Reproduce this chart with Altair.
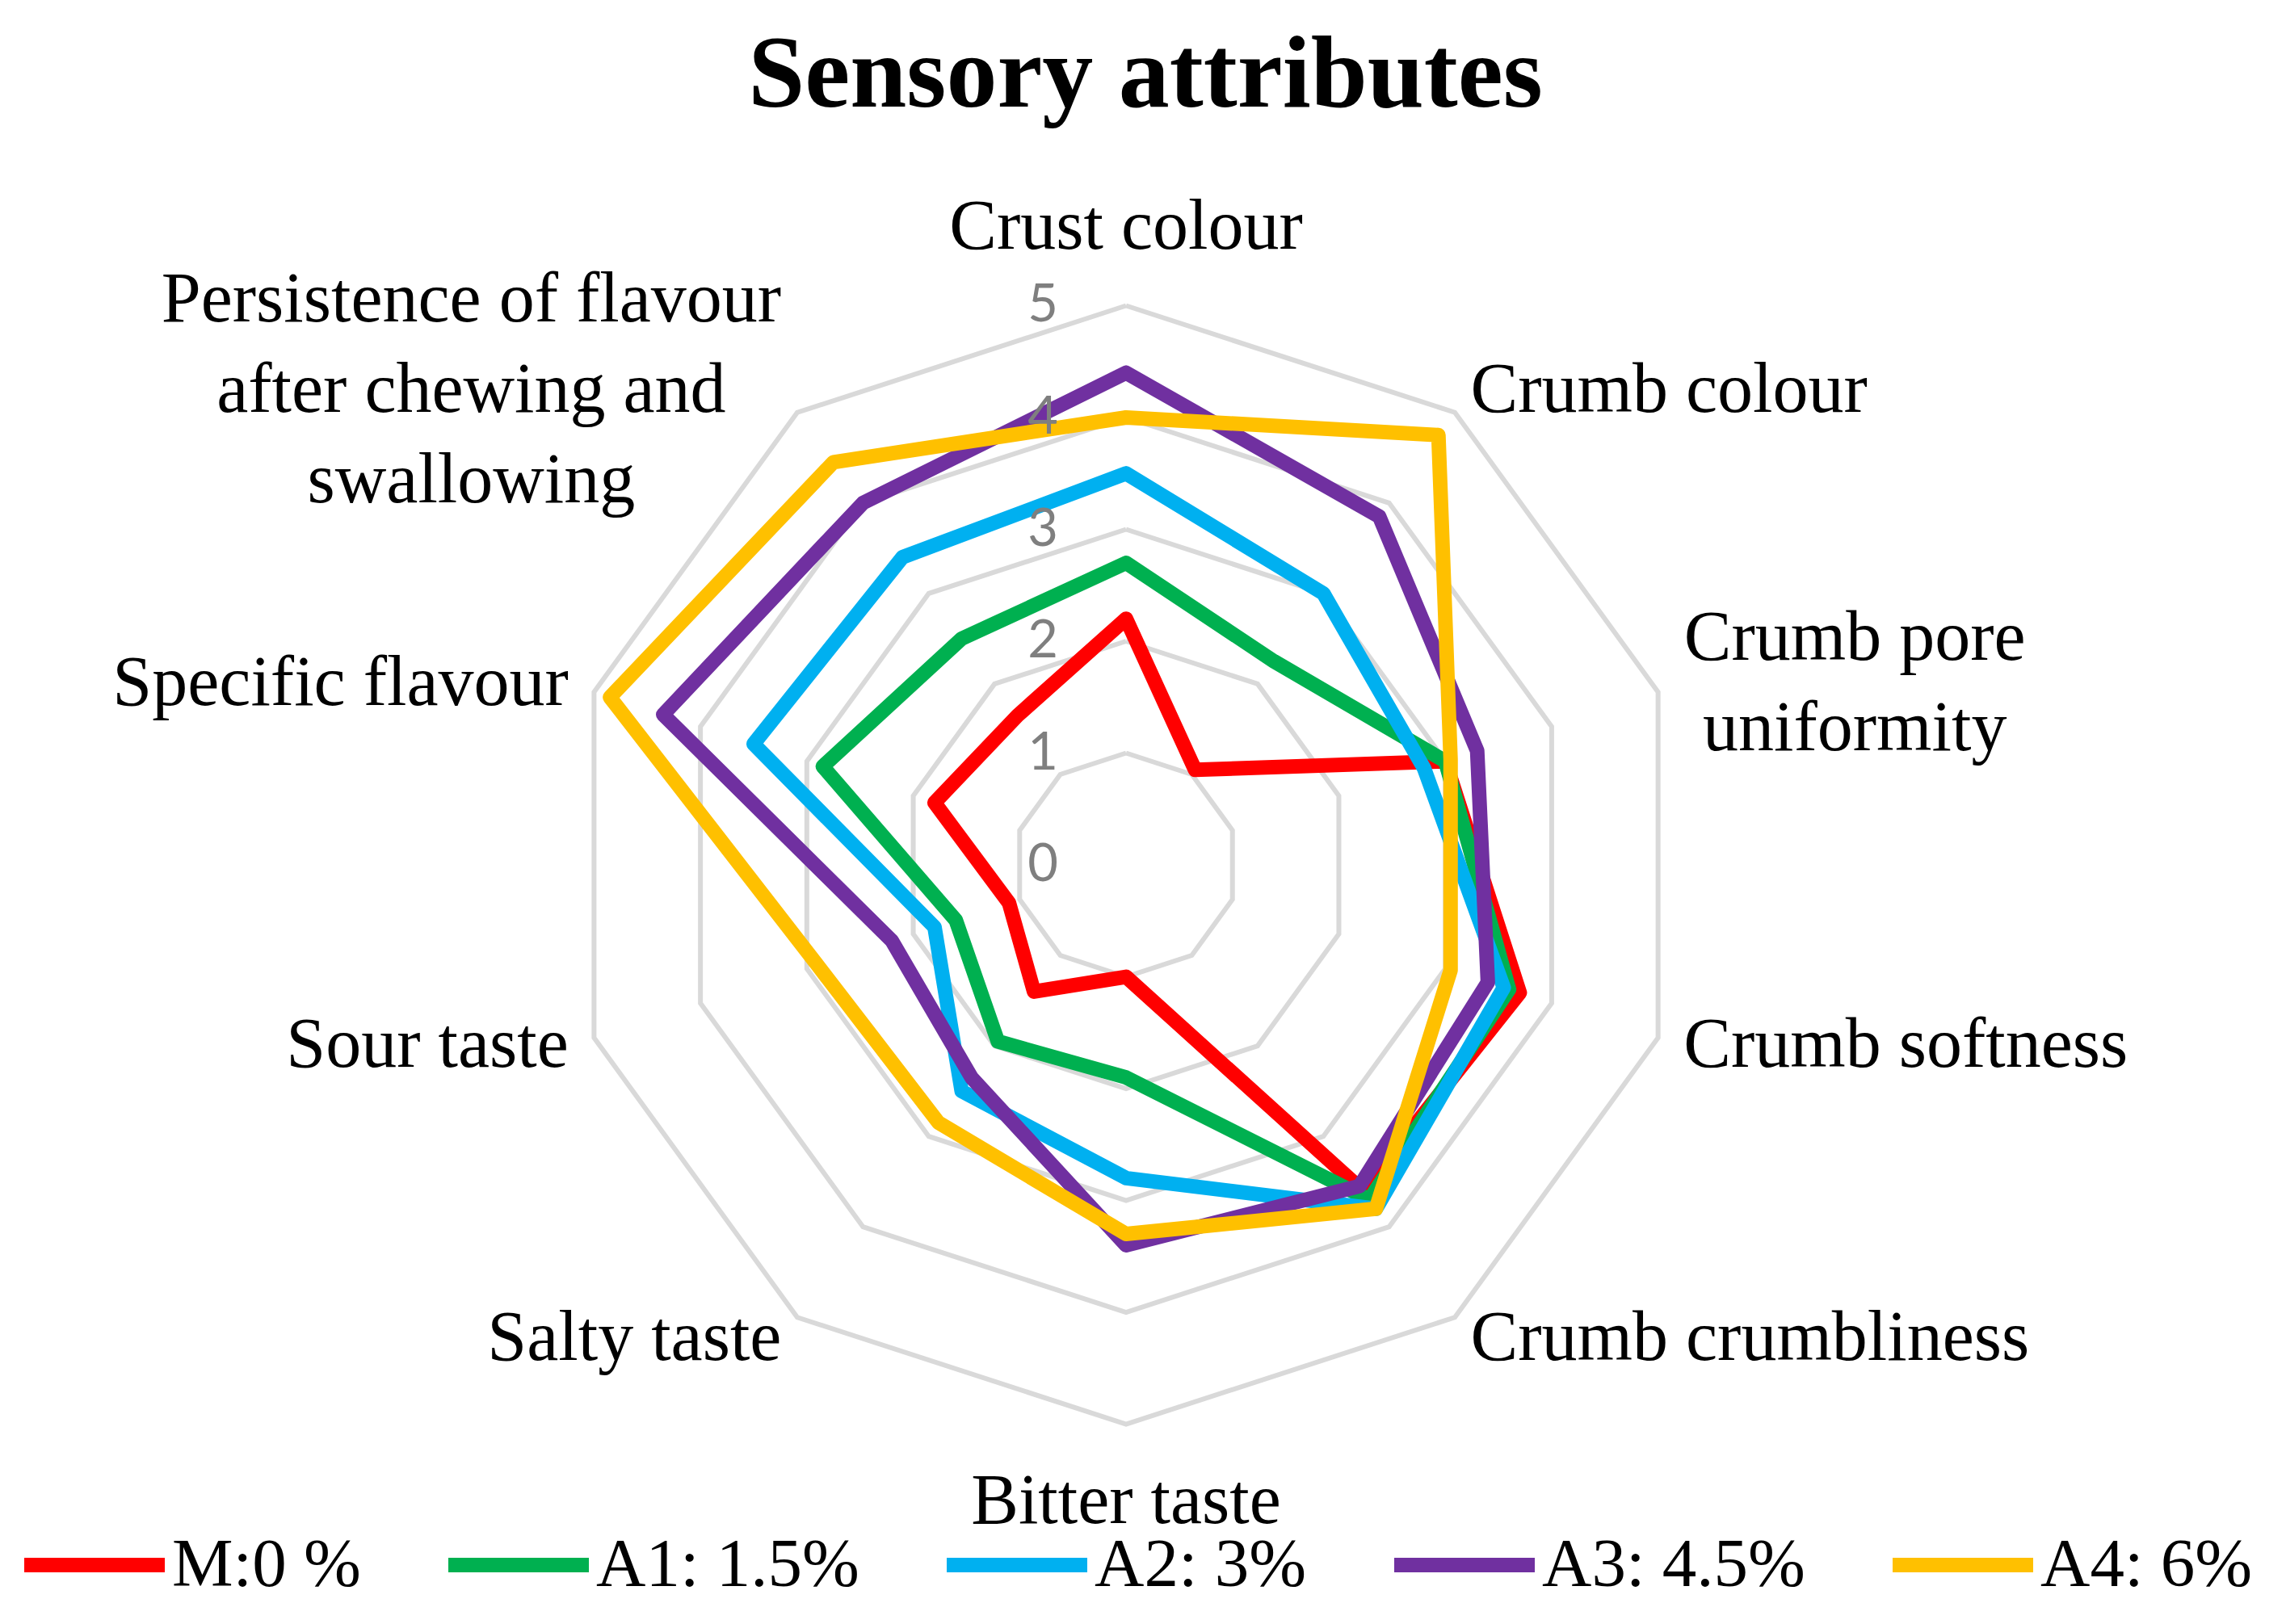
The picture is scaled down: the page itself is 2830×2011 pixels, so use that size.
import altair as alt
import pandas as pd

# ---------------- data ----------------
categories = ["Crust colour", "Crumb colour", "Crumb pore uniformity", "Crumb softness",
              "Crumb crumbliness", "Bitter taste", "Salty taste", "Sour taste",
              "Specific flavour", "Persistence of flavour after chewing and swallowing"]
category_text = ["Crust colour", "Crumb colour", "Crumb pore\nuniformity", "Crumb softness",
                 "Crumb crumbliness", "Bitter taste", "Salty taste", "Sour taste",
                 "Specific flavour", "Persistence of flavour\nafter chewing and\nswallowing"]
series_names = ["M:0 %", "A1: 1.5%", "A2: 3%", "A3: 4.5%", "A4: 6%"]
m0 = [2.2, 1.05, 3.0, 3.7, 3.6, 1.0, 1.4, 1.1, 1.8, 1.65]
a1 = [2.7, 2.25, 3.0, 3.6, 3.7, 1.9, 1.95, 1.6, 2.85, 2.5]
a2 = [3.5, 3.0, 2.8, 3.55, 3.8, 2.8, 2.5, 1.8, 3.5, 3.4]
a3 = [4.4, 3.85, 3.3, 3.4, 3.55, 3.4, 2.35, 2.2, 4.35, 4.0]
a4 = [4.0, 4.75, 3.05, 3.05, 3.8, 3.3, 2.85, 2.9, 4.85, 4.45]
levels = [0, 1, 2, 3, 4, 5]
colors = ["#FF0000", "#00B050", "#00B0F0", "#7030A0", "#FFC000"]
title_text = "Sensory attributes"

n = len(categories)
series_values = [m0, a1, a2, a3, a4]

# ---------------- tables ----------------
rows = []
for s, vals in zip(series_names, series_values):
    for k in range(n + 1):
        rows.append({"series": s, "order": k, "idx": k % n, "value": vals[k % n]})
lines_df = pd.DataFrame(rows)

ring_rows = []
for lev in levels[1:]:
    for k in range(n + 1):
        ring_rows.append({"level": lev, "order": k, "idx": k % n, "value": lev})
rings_df = pd.DataFrame(ring_rows)

labels_df = pd.DataFrame({"idx": list(range(n)), "cat": categories, "text": category_text})
ticks_df = pd.DataFrame({"level": levels, "text": [str(v) for v in levels]})
title_df = pd.DataFrame({"text": [title_text]})

# ---------------- scales ----------------
W, H = 2814, 1995
xs = alt.Scale(domain=[-10.007, 10.310], nice=False, zero=False)
ys = alt.Scale(domain=[-6.729, 7.675], nice=False, zero=False)
X = alt.X("x:Q", scale=xs, axis=None)
Y = alt.Y("y:Q", scale=ys, axis=None)

polar = dict(ang="datum.idx * PI / 5")
xy = dict(x="datum.value * sin(datum.ang)", y="datum.value * cos(datum.ang)")

rings = alt.Chart(rings_df).transform_calculate(**polar).transform_calculate(**xy).mark_line(
    color="#D9D9D9", strokeWidth=6, strokeJoin="miter"
).encode(x=X, y=Y, detail="level:N", order="order:Q")

lines = alt.Chart(lines_df).transform_calculate(**polar).transform_calculate(**xy).mark_line(
    strokeWidth=18, strokeJoin="round", strokeCap="round"
).encode(
    x=X, y=Y, order="order:Q",
    color=alt.Color("series:N", sort=series_names,
                    scale=alt.Scale(domain=series_names, range=colors),
                    title=None,
                    legend=alt.Legend(orient="none", legendX=13, legendY=1834,
                                      direction="horizontal", symbolType="stroke",
                                      symbolSize=30276, symbolStrokeWidth=18,
                                      labelFont="Liberation Serif", labelFontSize=85,
                                      labelColor="black", labelOffset=0,
                                      columnPadding=72, padding=0, labelLimit=1000)),
)

ticks = alt.Chart(ticks_df).transform_calculate(x="0", y="datum.level").mark_text(
    align="right", baseline="middle", dx=-84, font="Lato", fontSize=65, color="#7F7F7F"
).encode(x=X, y=Y, text="text:N")


def label_layer(idx_list, radius, align, dx=0, dy=0):
    return alt.Chart(labels_df).transform_filter(
        alt.FieldOneOfPredicate(field="idx", oneOf=idx_list)
    ).transform_calculate(ang="datum.idx * PI / 5").transform_calculate(
        x=f"{radius} * sin(datum.ang)", y=f"{radius} * cos(datum.ang)"
    ).mark_text(
        align=align, baseline="middle", dx=dx, dy=dy, font="Liberation Serif", fontSize=88,
        color="black", lineBreak="\n", lineHeight=112
    ).encode(x=X, y=Y, text="text:N")


lab_center = label_layer([0, 5], 5.7, "center")
lab_right = label_layer([1, 3, 4], 5.24, "left")
lab_left = label_layer([6, 7, 8], 5.24, "right")
lab_right_multi = label_layer([2], 5.24, "center", dx=212, dy=-56)
lab_left_multi = label_layer([9], 5.24, "center", dx=-384, dy=-112)

title = alt.Chart(title_df).mark_text(
    align="center", baseline="alphabetic", font="Liberation Serif", fontSize=126,
    fontWeight="bold", color="black"
).encode(x=alt.value(1410), y=alt.value(124), text="text:N")

chart = alt.layer(
    rings, lines, ticks, lab_center, lab_right, lab_left, lab_right_multi, lab_left_multi, title
).properties(
    width=W, height=H, autosize=alt.AutoSizeParams(type="none"), padding=0, background="white"
).configure_view(strokeWidth=0)

chart.save("out.html", embed_options={"renderer": "svg", "actions": False})
